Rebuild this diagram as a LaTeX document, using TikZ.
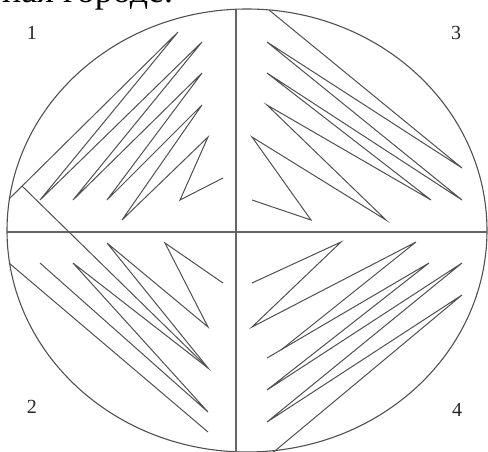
\documentclass[tikz,border=0pt]{standalone}
\usepackage{fontspec}
\setmainfont{Liberation Serif}
\definecolor{stroke}{RGB}{80,80,80}
\definecolor{axis}{RGB}{100,100,100}
\begin{document}
\begin{tikzpicture}[x=1pt,y=-1pt,
  streak/.style={draw=stroke,line width=1pt,line join=miter},
  divider/.style={draw=axis,line width=1.6pt},
  rim/.style={draw=stroke,line width=1.1pt},
  qlabel/.style={font=\fontsize{20}{22}\selectfont,text=black!85,inner sep=0pt}]
\useasboundingbox (0,0) rectangle (488,451);
\clip (0,0) rectangle (488,451);
% cut-off heading text at the top
\node[anchor=base west,inner sep=0pt,font=\fontsize{36}{40}\selectfont] (head) at (2,2) {ная городе.};
% plate
\draw[rim] (247,230.5) ellipse [x radius=240, y radius=221.5];
\draw[divider] (7,232) -- (487,232);
\draw[divider] (236,9) -- (236,455);
% quadrant 1
\draw[streak] (9,199) -- (178,32) -- (40,200) -- (202,42) -- (73,200) -- (202,73)
  -- (107,200) -- (202,105) -- (122,220) -- (208,137) -- (180,200) -- (223,178);
\draw[streak] (22,186) -- (208,368);
% quadrant 2
\draw[streak] (223,283) -- (165,243) -- (208,327) -- (107,243) -- (208,368)
  -- (73,263) -- (208,412) -- (40,263);
\draw[streak] (9,263) -- (208,432);
% quadrant 3
\draw[streak] (252,200) -- (311,220) -- (252,137) -- (386,220) -- (267,105)
  -- (431,200) -- (267,73) -- (462,200) -- (267,42) -- (462,168) -- (269,10);
% quadrant 4
\draw[streak] (252,283) -- (341,242) -- (252,327) -- (416,242) -- (281,350);
\draw[streak] (267,358) -- (429,263) -- (267,390) -- (462,263) -- (267,422)
  -- (462,295) -- (270,455);
% labels
\node[qlabel] (l1) at (32,33) {1};
\node[qlabel] (l3) at (456,33) {3};
\node[qlabel] (l2) at (32,407) {2};
\node[qlabel] (l4) at (457,410) {4};
\end{tikzpicture}
\end{document}
